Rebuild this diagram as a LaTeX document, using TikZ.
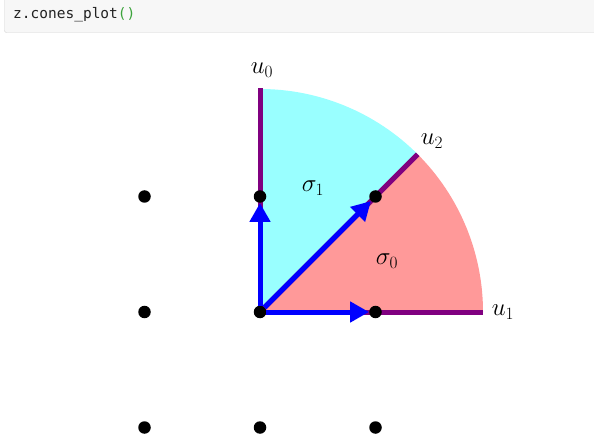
\documentclass[tikz,border=0pt]{standalone}
\usepackage{fontspec}
\newfontfamily\codefont{DejaVu Sans Mono}
\usetikzlibrary{arrows.meta}
\definecolor{cellbg}{HTML}{F7F7F7}
\definecolor{cellborder}{HTML}{CFCFCF}
\definecolor{codetext}{HTML}{222222}
\definecolor{parengreen}{HTML}{3BA33B}
\definecolor{conecyan}{HTML}{99FFFF}
\definecolor{conered}{HTML}{FF9999}
\definecolor{raypurple}{HTML}{800080}
\begin{document}
\begin{tikzpicture}[x=1pt,y=1pt,
  dot/.style={circle,fill=black,inner sep=0pt,minimum size=12.5pt},
  ray/.style={raypurple,line width=5pt},
  gen/.style={blue,line width=5pt,-{Triangle[length=19pt,width=20pt]}},
  lbl/.style={inner sep=0pt,font=\fontsize{23}{26}\selectfont}]
\useasboundingbox (0,0) rectangle (594,442);
\fill[white] (0,0) rectangle (594,442);
% code cell
\draw[cellborder,fill=cellbg,rounded corners=2pt] (4.5,409.5) rectangle (620,460);
\node[anchor=base west,inner sep=0pt,text=codetext,font=\codefont\fontsize{14.5}{16}\selectfont] (code) at (13,423) {z.cones\_plot\textcolor{parengreen}{()}};
\begin{scope}[shift={(260,130)}]
  \fill[conered] (0,0) -- (223,0) arc[start angle=0,end angle=45,radius=223] -- cycle;
  \fill[conecyan] (0,0) -- (45:223) arc[start angle=45,end angle=90,radius=223] -- cycle;
  \coordinate (e0) at (90:224);
  \coordinate (e1) at (0:223);
  \coordinate (e2) at (45:223);
  \coordinate (o) at (0,0);
  \draw[ray] (o) -- (e0);
  \draw[ray] (o) -- (e1);
  \draw[ray] (o) -- (e2);
  \foreach \i/\x in {0/-115.5,1/0,2/115.5}
    \foreach \j/\y in {0/-115.5,1/0,2/115.5}
      \node[dot] (p\i\j) at (\x,\y) {};
  \draw[gen] (p11) -- (p21);
  \draw[gen] (p11) -- (p12);
  \draw[gen] (p11) -- (p22);
  \node[lbl] (lu0) at (2,242) {$u_0$};
  \node[lbl] (lu1) at (243,0) {$u_1$};
  \node[lbl] (lu2) at (172,171) {$u_2$};
  \node[lbl] (ls1) at (53,124) {$\sigma_1$};
  \node[lbl] (ls0) at (127,51) {$\sigma_0$};
\end{scope}
\end{tikzpicture}
\end{document}
